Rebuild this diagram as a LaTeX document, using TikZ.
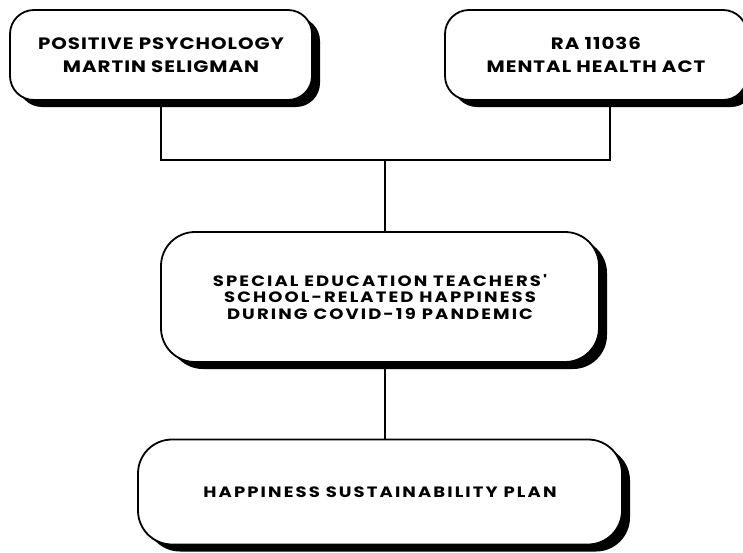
\documentclass[tikz,border=0pt]{standalone}
\usepackage{fontspec}
\newfontfamily\theoryfont{Poppins}[FakeStretch=1.2, LetterSpace=6]
\newfontfamily\topicfont{Poppins}[FakeStretch=1.2, LetterSpace=14]
\usetikzlibrary{positioning,shadows}

\begin{document}
\begin{tikzpicture}[x=1pt, y=-1pt, node distance =1cm and 4cm, on grid,
link/.style={line width=1.6pt},
theory/.style={rectangle, rounded corners=24pt, draw, fill=white, line width=1.8pt,
  align=center, font=\theoryfont\bfseries\fontsize{16.5}{23}\selectfont,
  drop shadow={shadow xshift=8pt, shadow yshift=-7pt, fill=black, opacity=1}},
topic/.style={theory, rounded corners=34pt, font=\topicfont\bfseries\fontsize{15}{16.8}\selectfont}
]
\useasboundingbox (0,0) rectangle (743,552);
\node[theory, minimum width=302pt, minimum height=90pt] (Kpos) at (161,55)
  {POSITIVE PSYCHOLOGY\\MARTIN SELIGMAN};
\node[theory, minimum width=302pt, minimum height=90pt] (Kact) [right =435pt of Kpos]
  {RA 11036\\MENTAL HEALTH ACT};
\node[topic, minimum width=438pt, minimum height=130pt] (Kspe) [below right =242pt and 219pt of Kpos]
  {SPECIAL EDUCATION TEACHERS'\\SCHOOL-RELATED HAPPINESS\\DURING COVID-19 PANDEMIC};
\node[topic, minimum width=484pt, minimum height=105pt] (Kplan) [below =195pt of Kspe]
  {HAPPINESS SUSTAINABILITY PLAN};
% joints of the tree
\coordinate (Jl) at (Kpos.south |- 0,160);
\coordinate (Jm) at (385,160);
\coordinate (Jr) at (610,160);
\draw[link] (Kpos.south) -- (Jl) -- (Jr) -- (Jr |- Kact.south);
\draw[link] (Jm) -- (Jm |- Kspe.north);
\draw[link] (Kspe.south -| Jm) -- (Kplan.north -| Jm);
\end{tikzpicture}
\end{document}
